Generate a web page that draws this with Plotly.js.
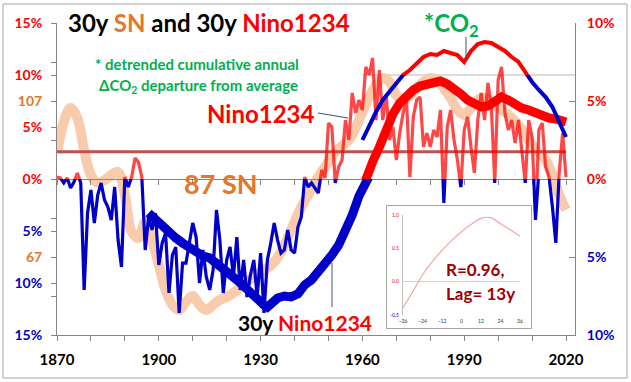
<!DOCTYPE html>
<html><head><meta charset="utf-8">
<script src="https://cdn.plot.ly/plotly-3.0.1.min.js"></script>
<style>html,body{margin:0;padding:0;background:#fff}#chart{width:631px;height:382px}</style>
</head><body><div id="chart"></div>
<script>
// ---------------- DATA ----------------
// 30y sunspot number (SN axis)
const snYears = [1870,1872,1874,1876,1878,1880,1882,1884,1886,1888,1890,1892,1894,1896,1898,1900,1902,1904,1906,1908,1910,1912,1914,1916,1918,1920,1922,1924,1926,1928,1930,1932,1934,1936,1938,1940,1942,1944,1946,1948,1950,1952,1954,1956,1958,1960,1962,1964,1966,1968,1970,1972,1974,1976,1978,1980,1982,1984,1986,1988,1990,1992,1994,1996,1998,2000,2002,2004,2006,2008,2010,2012,2014,2016,2018,2020];
const snValues = [93.7,101.6,105.2,102.6,94.4,88.0,86.0,86.7,88.0,88.8,82.9,73.4,71.9,76.0,71.4,65.0,58.5,54.7,53.4,55.5,57.0,54.7,53.4,54.7,56.0,56.7,57.8,59.1,60.6,61.9,63.2,64.2,65.7,68.3,71.9,76.0,79.8,82.9,86.2,88.8,91.4,93.9,95.5,97.0,100.1,104.2,108.0,111.1,112.9,111.9,108.5,107.3,108.5,110.3,111.9,112.9,112.4,110.3,107.8,104.7,103.4,105.2,107.3,107.8,106.7,105.2,104.2,102.6,100.8,98.3,95.7,93.9,91.9,88.0,82.9,79.1];
const snAverage = 94;

// annual Nino1234 (percent, left axis), 1870..2020
const ninoStartYear = 1870;
const ninoAnnual = [0.19,0.10,-0.38,0.10,-0.87,-0.29,0.58,-0.38,-10.67,-3.27,
 -1.06,-4.23,-1.54,-0.38,-2.02,-2.69,-3.94,-0.77,-5.87,-8.46,
 0.19,-0.77,0.19,2.02,1.63,0.19,-6.83,-3.65,-4.90,-3.27,
 -8.27,-6.15,-5.19,-10.96,-7.31,-6.54,-12.88,-8.08,-8.08,-6.35,
 -4.23,-5.58,-10.0,-6.83,-9.42,-10.67,-8.75,-2.98,-5.87,-10.96,
 -7.79,-6.54,-9.42,-5.58,-10.67,-7.79,-11.35,-9.23,-7.79,-11.35,
 -7.12,-12.88,-7.79,-6.15,-4.23,-5.87,-7.12,-6.83,-4.90,-6.83,
 -7.12,-4.62,-3.65,0.19,-0.77,-0.38,-0.87,-1.35,0.87,0.10,
 5.38,5.0,-0.38,1.15,1.83,5.67,3.75,8.27,6.35,7.60,
 6.63,10.77,10.0,11.63,5.67,10.48,5.67,8.08,3.75,5.0,
 1.83,4.42,6.35,7.60,0.19,5.96,7.60,7.88,3.08,4.42,
 3.08,4.71,4.04,6.63,-2.31,5.0,6.63,3.75,1.83,-0.77,
 4.71,5.96,3.08,0.58,5.67,8.27,5.67,9.23,6.92,-0.38,
 9.52,10.77,6.35,4.71,5.67,3.46,5.67,2.5,-0.38,5.67,
 4.04,-3.94,4.71,5.38,1.15,0.19,-2.69,-6.15,0.58,4.42,
 0.19];

// 30y Nino1234 (percent, right axis)
const nino30Years = [1897,1899,1901,1903,1905,1907,1909,1911,1913,1915,1917,1919,1921,1923,1925,1927,1929,1931,1932,1933,1935,1937,1939,1941,1943,1945,1947,1949,1951,1953,1955,1957,1959,1961,1963,1965,1967,1969,1971,1973,1975,1977,1979,1981,1983,1985,1987,1989,1991,1993,1995,1997,1999,2001,2003,2005,2007,2009,2011,2013,2015,2017,2019,2020];
const nino30Values = [-2.18,-2.63,-3.08,-3.40,-3.78,-4.10,-4.42,-4.68,-4.94,-5.06,-5.38,-5.71,-6.09,-6.47,-6.86,-7.31,-7.76,-8.08,-8.21,-7.95,-7.63,-7.50,-7.56,-7.37,-6.79,-6.47,-5.96,-5.51,-4.87,-4.23,-3.40,-2.31,-1.09,0.06,1.09,2.05,3.14,4.17,4.87,5.38,5.71,5.96,6.09,6.22,6.28,6.09,5.83,5.45,5.06,4.81,4.62,4.68,5.06,5.26,5.06,4.74,4.55,4.42,4.23,4.04,3.91,3.85,3.72,3.65];

// *CO2: detrended cumulative annual dCO2 departure from average
const co2Years = [1960,1962,1964,1966,1968,1970,1972,1974,1976,1978,1980,1982,1984,1986,1988,1990,1992,1994,1996,1998,2000,2002,2004,2006,2008,2010,2012,2014,2016,2018,2020];
const co2Values = [-6.25,-4.81,-3.56,-2.40,-1.63,-0.87,0.0,0.48,1.06,1.73,2.02,1.92,2.31,2.12,1.92,1.25,2.31,2.98,3.17,3.08,2.69,2.31,1.73,1.25,0.29,-0.67,-1.44,-2.12,-3.08,-4.62,-5.96];

// inset: correlation vs lag
const lagYears = [-36,-30,-24,-18,-12,-6,0,6,12,18,24,30,36];
const lagCorr = [-0.39,-0.15,0.10,0.30,0.47,0.62,0.75,0.86,0.95,0.96,0.87,0.78,0.68];

const decadeTicks = [1870,1880,1890,1900,1910,1920,1930,1940,1950,1960,1970,1980,1990,2000,2010,2020];
const decadeLabels = ['1870','','','1900','','','1930','','','1960','','','1990','','','2020'];

// ---------------- LAYOUT HELPERS ----------------
const W=631,H=382,L=57,R=56,T=23,B=47;
const PW=W-L-R, PH=H-T-B;
const fx = p => (p-L)/PW;
const fy = p => (H-B-p)/PH;
const RED='#ff0000', BLUE='#0000c8', ORANGE='#e2772e', GREEN='#00b050', PEACH='#f8cbad';
const FONT='Lato';
const ninoYears = ninoAnnual.map((_,i)=>ninoStartYear+i);
const XR=[1870,2022.65];
const AX='#868686';
const NONE='rgba(0,0,0,0)';
const c = (col,t)=>`<span style="color:${col}">${t}</span>`;

const traces = [
 // carrier traces (transparent) so every axis is attached to data
 {x:ninoYears,y:ninoAnnual,xaxis:'x',yaxis:'y',mode:'lines',line:{color:NONE,width:1}},
 {x:nino30Years,y:nino30Values,xaxis:'x',yaxis:'y3',mode:'lines',line:{color:NONE,width:1}},
 {x:ninoYears,y:ninoAnnual,xaxis:'x2',yaxis:'y',mode:'lines',line:{color:NONE,width:1}},
 // visible series
 {x:snYears,y:snValues,yaxis:'y2',mode:'lines',line:{color:PEACH,width:10,shape:'spline'}},
 {x:[1870,2020],y:[snAverage,snAverage],yaxis:'y2',mode:'lines',line:{color:'#c0504d',width:3}},
 {x:ninoYears,y:ninoAnnual,yaxis:'y4',mode:'lines',line:{color:'rgba(255,0,0,0.72)',width:3.2}},
 {x:ninoYears,y:ninoAnnual,yaxis:'y5',mode:'lines',line:{color:BLUE,width:3.2}},
 {x:nino30Years,y:nino30Values,yaxis:'y6',mode:'lines',line:{color:RED,width:9}},
 {x:nino30Years,y:nino30Values,yaxis:'y7',mode:'lines',line:{color:BLUE,width:9}},
 {x:co2Years,y:co2Values,yaxis:'y8',mode:'lines',line:{color:RED,width:4}},
 {x:co2Years,y:co2Values,yaxis:'y9',mode:'lines',line:{color:BLUE,width:4}},
 {x:[],y:[],xaxis:'x3',yaxis:'y10',mode:'lines'},
 {x:lagYears,y:lagCorr,xaxis:'x4',yaxis:'y11',mode:'lines',line:{color:'#f4a6a6',width:1.2,shape:'spline'}}
];

const clipAx = (dom,rng)=>({domain:dom,range:rng,anchor:'x',visible:false,fixedrange:true});
const tf = (size,color)=>({family:FONT,size:size,color:color||'#000',weight:700});

const layout = {
 width:W,height:H,margin:{l:L,r:R,t:T,b:B,pad:0},
 paper_bgcolor:'#fff',plot_bgcolor:'rgba(0,0,0,0)',showlegend:false,
 xaxis:{domain:[0,1],range:XR,anchor:'y',tickmode:'array',tickvals:decadeTicks,ticktext:decadeLabels,
   showline:true,linecolor:AX,linewidth:1,ticks:'outside',ticklen:5,tickcolor:AX,showgrid:false,zeroline:false,
   tickfont:tf(15),ticklabelstandoff:6},
 xaxis2:{overlaying:'x',anchor:'free',position:0.5,range:XR,tickmode:'array',tickvals:decadeTicks,showticklabels:false,
   showline:true,linecolor:AX,ticks:'outside',ticklen:5,tickcolor:AX,showgrid:false,zeroline:false},
 yaxis:{domain:[0,1],range:[-15,15],anchor:'x',side:'left',tickmode:'array',tickvals:[-15,-10,-5,0,5,10,15],
   ticktext:[c(BLUE,'15%'),c(BLUE,'10%'),c(BLUE,'5%'),c(RED,'0%'),c(RED,'5%'),c(RED,'10%'),c(RED,'15%')],
   showline:true,linecolor:AX,ticks:'outside',ticklen:5,tickcolor:AX,showgrid:false,zeroline:false,
   tickfont:tf(14),ticklabelstandoff:6},
 yaxis2:{overlaying:'y',side:'left',anchor:'x',range:[47,127],tickmode:'array',tickvals:[57,67,77,87,97,107,117],
   ticktext:['',c(ORANGE,'67'),'','','',c(ORANGE,'107'),''],ticks:'outside',ticklen:5,tickcolor:AX,
   showline:false,showgrid:false,zeroline:false,tickfont:tf(14),ticklabelstandoff:6},
 yaxis3:{overlaying:'y',side:'right',anchor:'x',range:[-10,10],tickmode:'array',tickvals:[-10,-5,0,5,10],
   ticktext:[c(BLUE,'10%'),c(BLUE,'5%'),c(RED,'0%'),c(RED,'5%'),c(RED,'10%')],
   showline:true,linecolor:AX,ticks:'inside',ticklen:6,tickcolor:AX,showgrid:false,zeroline:false,
   tickfont:tf(14),ticklabelstandoff:8},
 yaxis4:clipAx([0.5,1],[0,15]),
 yaxis5:clipAx([0,0.5],[-15,0]),
 yaxis6:clipAx([0.5,1],[0,10]),
 yaxis7:clipAx([0,0.5],[-10,0]),
 yaxis8:clipAx([fy(75),1],[0,5]),
 yaxis9:clipAx([0,fy(75)],[-25,0]),
 xaxis3:{domain:[fx(386),fx(532)],anchor:'y10',range:[0,1],visible:false},
 yaxis10:{domain:[fy(329),fy(205)],anchor:'x3',range:[0,1],visible:false},
 xaxis4:{domain:[fx(403),fx(520)],anchor:'y11',range:[-36,36],tickmode:'array',tickvals:[-36,-24,-12,0,12,24,36],
   showline:false,ticks:'',showgrid:false,zeroline:false,tickfont:{family:FONT,size:5,color:'#333'},ticklabelstandoff:2},
 yaxis11:{domain:[fy(315),fy(215)],anchor:'x4',range:[-0.5,1.0],tickmode:'array',tickvals:[-0.5,0,0.5,1.0],
   ticktext:[c(BLUE,'-0.5'),c(RED,'0.0'),c(RED,'0.5'),c(RED,'1.0')],showline:true,linecolor:'#c0c0c0',ticks:'',
   showgrid:false,zeroline:true,zerolinecolor:'#d0d0d0',zerolinewidth:1,tickfont:{family:FONT,size:5},ticklabelstandoff:2},
 shapes:[
  {type:'rect',xref:'paper',yref:'paper',x0:fx(3),x1:fx(627),y0:fy(378),y1:fy(4),line:{color:'#a6a6a6',width:1},layer:'below'},
  {type:'line',xref:'x',yref:'paper',x0:1960,x1:XR[1],y0:fy(75),y1:fy(75),line:{color:'#d0d0d0',width:1.5},layer:'below'},
  {type:'rect',xref:'x3',yref:'y10',x0:0,x1:1,y0:0,y1:1,fillcolor:'#fff',line:{color:'#a6a6a6',width:2},layer:'below'},
  {type:'line',xref:'paper',yref:'paper',x0:fx(466),x1:fx(466),y0:fy(37),y1:fy(62),line:{color:'#44546a',width:1}},
  {type:'line',xref:'paper',yref:'paper',x0:fx(318),x1:fx(348),y0:fy(113),y1:fy(118),line:{color:'#44546a',width:1}},
  {type:'line',xref:'paper',yref:'paper',x0:fx(332),x1:fx(332),y0:fy(263),y1:fy(307),line:{color:'#44546a',width:1}}
 ],
 annotations:[
  {xref:'paper',yref:'paper',x:fx(66),y:fy(22),xanchor:'left',yanchor:'middle',showarrow:false,
   text:'30y '+c(ORANGE,'SN')+' and 30y '+c(RED,'Nino1234'),font:tf(24)},
  {xref:'paper',yref:'paper',x:fx(197),y:fy(64),xanchor:'center',yanchor:'middle',showarrow:false,
   text:'* detrended cumulative annual',font:tf(15,GREEN)},
  {xref:'paper',yref:'paper',x:fx(198),y:fy(86),xanchor:'center',yanchor:'middle',showarrow:false,
   text:'ΔCO<sub>2</sub> departure from average',font:tf(15,GREEN)},
  {xref:'paper',yref:'paper',x:fx(451),y:fy(25),xanchor:'center',yanchor:'middle',showarrow:false,
   text:'*CO<sub>2</sub>',font:tf(24,GREEN)},
  {xref:'paper',yref:'paper',x:fx(261),y:fy(114),xanchor:'center',yanchor:'middle',showarrow:false,
   text:'Nino1234',font:tf(24,RED)},
  {xref:'paper',yref:'paper',x:fx(221),y:fy(183),xanchor:'center',yanchor:'middle',showarrow:false,
   text:'87 SN',font:tf(27,ORANGE)},
  {xref:'paper',yref:'paper',x:fx(305),y:fy(322),xanchor:'center',yanchor:'middle',showarrow:false,
   text:'30y '+c(RED,'Nino1234'),font:tf(21)},
  {xref:'paper',yref:'paper',x:fx(444),y:fy(269),xanchor:'left',yanchor:'middle',showarrow:false,
   text:'R=0.96,',font:tf(17,'#a00000')},
  {xref:'paper',yref:'paper',x:fx(444),y:fy(293),xanchor:'left',yanchor:'middle',showarrow:false,
   text:'Lag= 13y',font:tf(17,'#a00000')}
 ]
};

Plotly.newPlot('chart',traces,layout,{staticPlot:true,displayModeBar:false});
</script></body></html>
